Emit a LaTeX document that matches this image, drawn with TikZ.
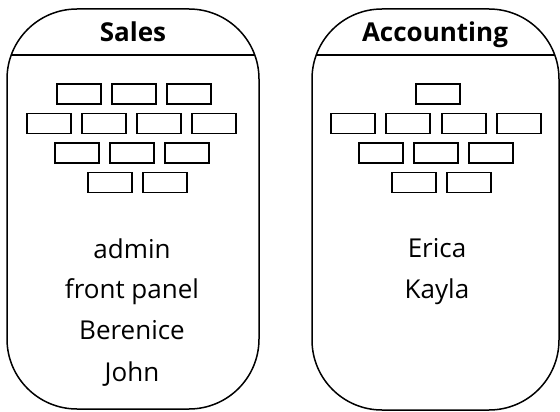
\documentclass[tikz,border=0pt]{standalone}
\usepackage{fontspec}
\setmainfont{Open Sans}
\tikzset{
  dept/.style={draw,line width=1.5pt,rounded corners=70pt},
  headline/.style={line width=1.5pt},
  brick/.style={draw,line width=1.2pt,minimum width=44pt,minimum height=20pt,inner sep=0pt},
  title/.style={font=\fontsize{26}{30}\selectfont\bfseries,anchor=base},
  member/.style={font=\fontsize{26}{30}\selectfont,anchor=base},
}
\begin{document}
\begin{tikzpicture}[x=1pt,y=-1pt]
        \useasboundingbox (0,0) rectangle (560,412);
        %% Sales group
        \draw[dept] (7,9) rectangle (259,409);
        \draw[headline] (11.2,55) -- (254.8,55);
        \node[title] (sales) at (133,42) {Sales};
        \foreach \x [count=\i] in {79,134,189} \node[brick] (sa\i) at (\x,94) {};
        \foreach \x [count=\i] in {49,104,159,214} \node[brick] (sb\i) at (\x,123.5) {};
        \foreach \x [count=\i] in {77,132,187} \node[brick] (sc\i) at (\x,153) {};
        \foreach \x [count=\i] in {110,165} \node[brick] (sd\i) at (\x,182.5) {};
        \node[member] (admin) at (132,258) {admin};
        \node[member] (front) at (132,298) {front panel};
        \node[member] (berenice) at (132,339) {Berenice};
        \node[member] (john) at (132,381) {John};
        %% Accounting group
        \draw[dept] (312,9) rectangle (559,410);
        \draw[headline] (316.2,55) -- (554.8,55);
        \node[title] (accounting) at (435,42) {Accounting};
        \node[brick] (aa1) at (438,94) {};
        \foreach \x [count=\i] in {353,408,464,519} \node[brick] (ab\i) at (\x,123.5) {};
        \foreach \x [count=\i] in {381,436,491} \node[brick] (ac\i) at (\x,153) {};
        \foreach \x [count=\i] in {414,469} \node[brick] (ad\i) at (\x,182.5) {};
        \node[member] (erica) at (437,257) {Erica};
        \node[member] (kayla) at (437,298) {Kayla};
\end{tikzpicture}
\end{document}
